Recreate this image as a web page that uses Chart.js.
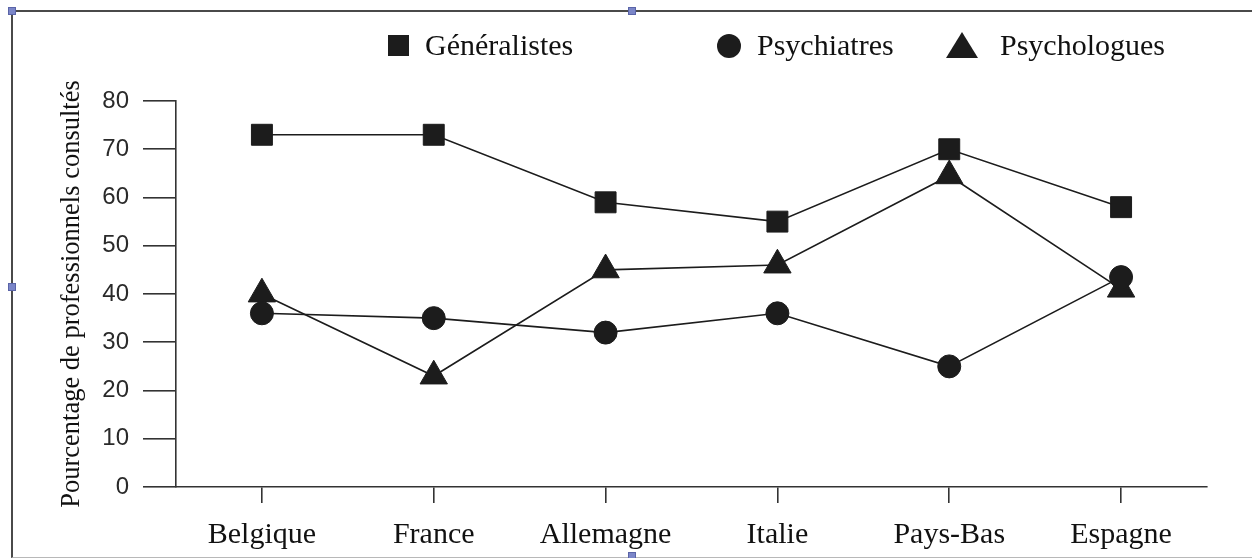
<!DOCTYPE html>
<html>
<head>
<meta charset="utf-8">
<script src="https://cdn.jsdelivr.net/npm/chart.js@4.4.0/dist/chart.umd.min.js"></script>
<style>
  html, body { margin:0; padding:0; background:#fff; }
  #wrap { position:relative; width:1252px; height:558px; overflow:hidden; background:#fff; }
  #frame { position:absolute; left:11px; top:10px; width:1260px; height:545px;
           border-top:2px solid #4a4a4a; border-left:2px solid #4a4a4a; border-bottom:1px solid #b8b8b8; }
  .handle { position:absolute; width:6px; height:6px; background:#7b86c8; border:1px solid #5a64a8; }
  #legend { position:absolute; left:0; top:0; width:1252px; height:90px; font-family:"Liberation Serif","Times New Roman",serif; font-size:30px; color:#111; }
  #legend .sym, #legend .txt { position:absolute; }
  #legend .txt { line-height:30px; }
  canvas { position:absolute; left:0; top:0; }
</style>
</head>
<body>
<div id="wrap">
  <div id="frame"></div>
  <div class="handle" style="left:8px;top:7px"></div>
  <div class="handle" style="left:628px;top:7px"></div>
  <div class="handle" style="left:8px;top:283px"></div>
  <div class="handle" style="left:628px;top:552px"></div>
  <canvas id="chart" width="1252" height="558"></canvas>
  <div id="legend"></div>
</div>
<script>
// categories
const countries = ['Belgique', 'France', 'Allemagne', 'Italie', 'Pays-Bas', 'Espagne'];
// series values (%)
const generalistes = [73, 73, 59, 55, 70, 58];
const psychiatres = [36, 35, 32, 36, 25, 43.5];
const psychologues = [40, 23, 45, 46, 64.5, 41];
const seriesNames = ['Généralistes', 'Psychiatres', 'Psychologues'];
// y axis
const yMin = 0, yMax = 80, yStep = 10;
const yTitle = 'Pourcentage de professionnels consultés';

const ink = '#1c1c1c';
const serif = '"Liberation Serif","Times New Roman",serif';

function ds(label, data, style, radius){
  return { label, data, borderColor: ink, backgroundColor: ink, borderWidth: 1.6,
    pointStyle: style, pointRadius: radius, pointHoverRadius: radius,
    pointBackgroundColor: ink, pointBorderColor: ink, pointBorderWidth: 1, tension: 0 };
}

const ctx = document.getElementById('chart');
new Chart(ctx, {
  type: 'line',
  data: {
    labels: countries,
    datasets: [
      ds(seriesNames[0], generalistes, 'rect', 14.8),
      ds(seriesNames[1], psychiatres, 'circle', 11.5),
      ds(seriesNames[2], psychologues, 'triangle', 15.8)
    ]
  },
  options: {
    responsive: false,
    animation: false,
    layout: { padding: { left: 56, right: 45, top: 101, bottom: 0 } },
    plugins: { legend: { display: false }, tooltip: { enabled: false } },
    scales: {
      x: {
        offset: true,
        afterFit: s => { s.height = 71; },
        border: { display: true, color: '#333', width: 1.6 },
        grid: { drawOnChartArea: false, drawTicks: true, tickLength: 16, color: '#333', lineWidth: 1.6 },
        ticks: { color: '#111', padding: 14, font: { family: serif, size: 30 } }
      },
      y: {
        min: yMin, max: yMax,
        afterFit: s => { s.width = 120; },
        border: { display: true, color: '#333', width: 1.6 },
        grid: { drawOnChartArea: false, drawTicks: true, tickLength: 33, color: '#333', lineWidth: 1.6 },
        ticks: { stepSize: yStep, color: '#2a2a2a', padding: 14, font: { family: '"Liberation Sans", Arial, sans-serif', size: 24 } },
        title: { display: true, text: yTitle, color: '#111', padding: 0, font: { family: serif, size: 26.5 } }
      }
    }
  }
});

// legend (symbols + names), placed like the original figure
const legendPos = [
  { sym: 'square',   symLeft: 388, txtLeft: 425 },
  { sym: 'circle',   symLeft: 717, txtLeft: 757 },
  { sym: 'triangle', symLeft: 946, txtLeft: 1000 }
];
const leg = document.getElementById('legend');
seriesNames.forEach((name, i) => {
  const p = legendPos[i];
  const s = document.createElement('div');
  s.className = 'sym';
  if (p.sym === 'square') s.style.cssText = `left:${p.symLeft}px;top:35px;width:21px;height:21px;background:${ink}`;
  else if (p.sym === 'circle') s.style.cssText = `left:${p.symLeft}px;top:34px;width:24px;height:24px;border-radius:50%;background:${ink}`;
  else s.style.cssText = `left:${p.symLeft}px;top:32px;width:0;height:0;border-left:16px solid transparent;border-right:16px solid transparent;border-bottom:26px solid ${ink}`;
  const t = document.createElement('div');
  t.className = 'txt';
  t.style.left = p.txtLeft + 'px';
  t.style.top = '30px';
  t.textContent = name;
  leg.appendChild(s); leg.appendChild(t);
});
</script>
</body>
</html>
